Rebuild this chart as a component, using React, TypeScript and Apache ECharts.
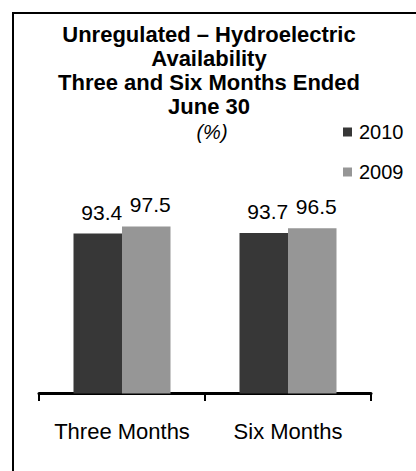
import React, { useEffect, useRef } from "react";
import * as echarts from "echarts";

const categories = ["Three Months", "Six Months"];
const seriesNames = ["2010", "2009"];
const values2010 = [93.4, 93.7];
const values2009 = [97.5, 96.5];
const titleLines = ["Unregulated – Hydroelectric", "Availability", "Three and Six Months Ended", "June 30"];
const unitText = "(%)";

const FONT = '"Liberation Sans", Arial, sans-serif';

export default function App() {
  const ref = useRef<HTMLDivElement>(null);
  useEffect(() => {
    if (!ref.current) return;
    const chart = echarts.init(ref.current, undefined, { renderer: "svg" });
    const labelStyle = {
      show: true,
      position: "top" as const,
      distance: 11,
      offset: [4, 0],
      color: "#000",
      fontSize: 21,
      fontFamily: FONT,
      lineHeight: 21,
    };
    chart.setOption({
      animation: false,
      backgroundColor: "#fff",
      textStyle: { fontFamily: FONT },
      graphic: [
        {
          type: "rect",
          shape: { x: 13, y: 13, width: 420, height: 480 },
          style: { fill: "none", stroke: "#000", lineWidth: 2 },
          silent: true,
        },
        {
          type: "text",
          x: 209,
          y: 22.9,
          style: {
            text: titleLines.join("\n"),
            fontSize: 22,
            fontWeight: "bold",
            fontFamily: FONT,
            lineHeight: 24,
            align: "center",
            verticalAlign: "top",
            fill: "#000",
          },
        },
        {
          type: "text",
          x: 212,
          y: 131.6,
          style: {
            text: unitText,
            fontSize: 20,
            fontStyle: "italic",
            fontFamily: FONT,
            align: "center",
            verticalAlign: "middle",
            fill: "#000",
          },
        },
      ],
      legend: {
        orient: "vertical",
        left: 338,
        top: 117,
        itemWidth: 9,
        itemHeight: 9,
        itemGap: 20,
        icon: "rect",
        data: seriesNames,
        textStyle: { fontSize: 20, fontFamily: FONT, color: "#000", lineHeight: 20, padding: [0, 0, 0, 2] },
      },
      grid: { left: 39, right: 45, top: 222.2, bottom: 77.5 },
      xAxis: {
        type: "category",
        data: categories,
        axisLine: { show: true, lineStyle: { color: "#000", width: 3 } },
        axisTick: { show: true, length: 7.5, lineStyle: { color: "#000", width: 2 } },
        axisLabel: {
          interval: 0,
          hideOverlap: false,
          color: "#000",
          fontSize: 22,
          fontFamily: FONT,
          margin: 27,
          lineHeight: 22,
        },
      },
      yAxis: {
        type: "value",
        min: 0,
        max: 100,
        show: false,
        splitLine: { show: false },
      },
      series: [
        {
          name: seriesNames[0],
          type: "bar",
          data: values2010,
          barWidth: 48.5,
          barGap: "0%",
          itemStyle: { color: "#373737" },
          label: labelStyle,
        },
        {
          name: seriesNames[1],
          type: "bar",
          data: values2009,
          barWidth: 48.5,
          barGap: "0%",
          itemStyle: { color: "#969696" },
          label: labelStyle,
        },
      ],
    });
    return () => chart.dispose();
  }, []);
  return (
    <div
      ref={ref}
      style={{ position: "fixed", left: 0, top: 0, width: 416, height: 471, background: "#fff" }}
    />
  );
}
